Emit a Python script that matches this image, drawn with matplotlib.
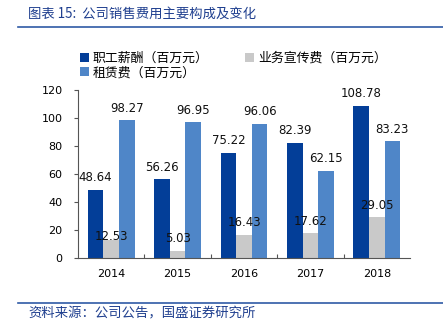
import numpy as np
import matplotlib
matplotlib.use("Agg")
import matplotlib.pyplot as plt
from matplotlib.lines import Line2D

plt.rcParams['font.family'] = ['DejaVu Sans', 'Noto Sans CJK SC']

years = ['2014', '2015', '2016', '2017', '2018']
salary = [48.64, 56.26, 75.22, 82.39, 108.78]      # 职工薪酬
promo = [12.53, 5.03, 16.43, 17.62, 29.05]         # 业务宣传费
rent = [98.27, 96.95, 96.06, 62.15, 83.23]         # 租赁费
series_names = ['职工薪酬（百万元）', '业务宣传费（百万元）', '租赁费（百万元）']
colors = ['#033e98', '#c9c9c9', '#4f86c8']

cjk = ['Noto Sans CJK SC', 'DejaVu Sans']
blue_text = '#1f3f8f'

fig = plt.figure(figsize=(4.43, 3.24), dpi=100)
ax = fig.add_axes([78 / 443, 66 / 324, 332 / 443, 168 / 324])

x = np.arange(len(years))
w = 0.235
for i, vals in enumerate([salary, promo, rent]):
    ax.bar(x + (i - 1) * w, vals, w, color=colors[i], label=series_names[i], zorder=2)
    for j, v in enumerate(vals):
        dy = 4
        if i == 1 and j == 0:
            dy = -1.5  # 12.53 sits lower, tucked against the bar
        ax.annotate(f'{v:.2f}', (x[j] + (i - 1) * w, v), xytext=(0, dy),
                    textcoords='offset points', ha='center', va='bottom',
                    fontsize=8.5, color='#111111')

ax.set_xlim(-0.5, len(years) - 0.5)
ax.set_ylim(0, 120)
ax.set_yticks(range(0, 121, 20))
ax.set_xticks(x)
ax.set_xticklabels(years, fontsize=8)
ax.tick_params(axis='y', labelsize=8, length=3, width=0.8, color='#555555', pad=8)
ax.tick_params(axis='x', length=0, pad=8)
# category boundary ticks pointing up from the x axis
ax.set_xticks(np.arange(0.5, len(years) - 0.5, 1), minor=True)
ax.tick_params(axis='x', which='minor', direction='in', length=3, width=0.8, color='#555555')
for s in ['top', 'right']:
    ax.spines[s].set_visible(False)
for s in ['left', 'bottom']:
    ax.spines[s].set_color('#555555')
    ax.spines[s].set_linewidth(0.8)

h, l = ax.get_legend_handles_labels()
order = [0, 2, 1]
ax.legend([h[k] for k in order], [l[k] for k in order], ncol=2,
          loc='upper left', bbox_to_anchor=(80 / 443, 1 - 52 / 324),
          bbox_transform=fig.transFigure, frameon=False, prop={'family': cjk, 'size': 9.3},
          handlelength=0.7, handleheight=0.7, handletextpad=0.3,
          columnspacing=2.8, labelspacing=0.1, borderpad=0, borderaxespad=0)

# header and footer
fig.text(28 / 443, 1 - 14 / 324, '图表 15:  公司销售费用主要构成及变化', family=cjk,
         fontsize=9.6, color=blue_text, style='italic', va='center', ha='left')
fig.add_artist(Line2D([18 / 443, 1], [1 - 27 / 324] * 2, transform=fig.transFigure,
                      color='#2f5aa6', linewidth=1.2))
fig.add_artist(Line2D([18 / 443, 1], [1 - 303 / 324] * 2, transform=fig.transFigure,
                      color='#2f5aa6', linewidth=1.2))
fig.text(28 / 443, 1 - 313 / 324, '资料来源：公司公告，国盛证券研究所', family=cjk,
         fontsize=9.6, color=blue_text, style='italic', va='center', ha='left')

fig.savefig('out.png', dpi=100)
